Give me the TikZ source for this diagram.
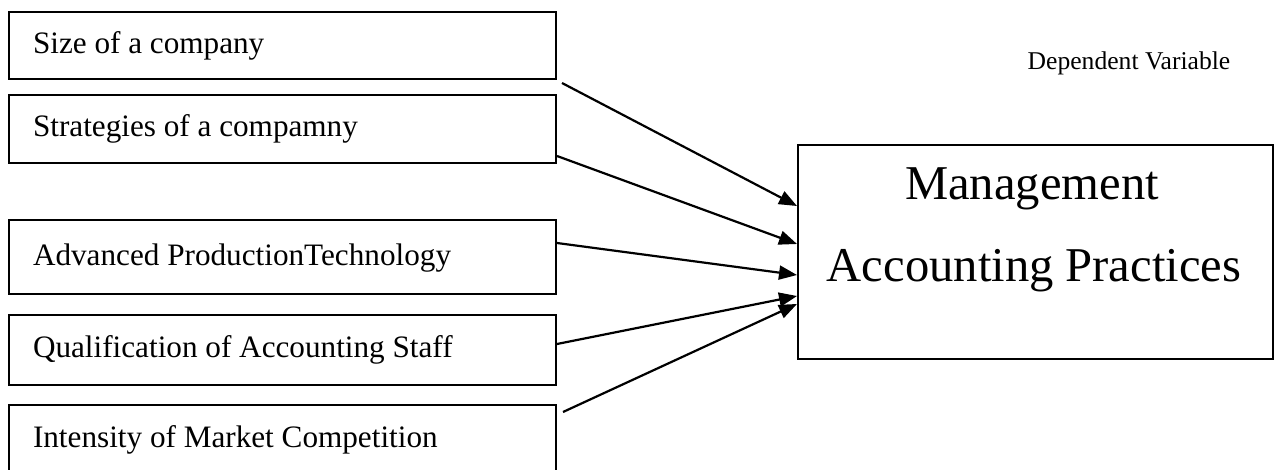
\documentclass[tikz,border=0pt]{standalone}
\usepackage{fontspec}
\setmainfont{Liberation Serif}
\usetikzlibrary{arrows.meta,positioning,calc}

\begin{document}
\begin{tikzpicture}[
  x=0.5pt, y=-0.5pt,
  factor/.style={draw=black, line width=1pt, anchor=north west,
                 minimum width=273.5pt, text width=249.5pt, align=flush left,
                 inner xsep=12pt, inner ysep=0pt,
                 text height=0.87em, text depth=0.07em,
                 execute at begin node={\spaceskip=0pt\xspaceskip=0pt\relax},
                 font=\fontsize{15.6}{18}\selectfont},
  outcome/.style={draw=black, line width=1pt, anchor=north west,
                  minimum width=237.5pt, minimum height=107pt, inner sep=0pt},
  bigtext/.style={anchor=base, inner sep=0pt, font=\fontsize{24.3}{29}\selectfont},
  heading/.style={anchor=base, inner sep=0pt, font=\fontsize{12.8}{15}\selectfont},
  influence/.style={line width=1.1pt, -{Triangle[length=9pt,width=7pt]}},
]
\useasboundingbox (0,0) rectangle (1274,470);

% --- Independent variables ---
\node[factor, minimum height=33.5pt] (size) at (8,11) {Size of a company};
\node[factor, minimum height=34pt] (strat) at (8,94) {Strategies of a compamny};
\node[factor, minimum height=37pt] (adv) at (8,219) {Advanced ProductionTechnology};
\node[factor, minimum height=35pt] (qual) at (8,314) {Qualification of Accounting Staff};
\node[factor, minimum height=38pt, text height=0.68em, text depth=0.27em] (intens) at (8,404) {Intensity of Market Competition};

% --- Dependent variable ---
\node[heading] (dep) at (1129,70) {Dependent Variable};
\node[outcome] (map) at (797,144) {};
\node[bigtext] (mgmt) at (1032,200) {Management};
\node[bigtext] (acc) at (1034,282) {Accounting Practices};

% --- Arrows ---
\draw[influence] ([shift={(5,3)}]size.south east) -- ([shift={(0,62)}]map.north west);
\draw[influence] ([shift={(0,-8)}]strat.south east) -- ([shift={(0,100)}]map.north west);
\draw[influence] ([shift={(0,24)}]adv.north east) -- ([shift={(0,131)}]map.north west);
\draw[influence] ([shift={(0,30)}]qual.north east) -- ([shift={(0,152)}]map.north west);
\draw[influence] ([shift={(6,8)}]intens.north east) -- ([shift={(0,160)}]map.north west);

\end{tikzpicture}
\end{document}
